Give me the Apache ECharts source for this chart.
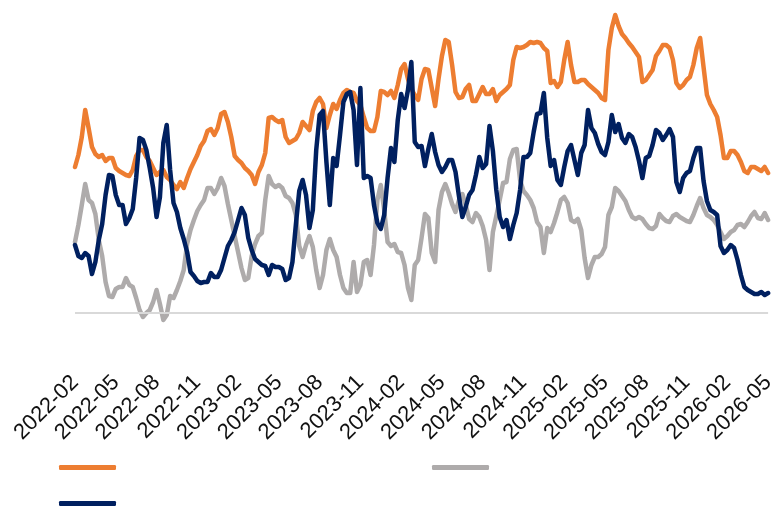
<!DOCTYPE html>
<html>
<head>
<meta charset="utf-8">
<script src="https://cdn.jsdelivr.net/npm/echarts@6/dist/echarts.min.js"></script>
<style>
html,body{margin:0;padding:0;background:#fff;}
#chart{width:778px;height:507px;}
</style>
</head>
<body>
<div id="chart"></div>
<script>
// Tick labels shown on the x axis (every 3 months)
const tickLabels = ['2022-02','2022-05','2022-08','2022-11','2023-02','2023-05','2023-08','2023-11','2024-02','2024-05','2024-08','2024-11','2025-02','2025-05','2025-08','2025-11','2026-02','2026-05'];

// Series names (the legend shows no text)
const seriesNames = ['Series 1', 'Series 2', 'Series 3'];

// Orange series (quarter-month observations, 2022-02 .. 2026-05)
const orangeValues = [
14.6,15.8,17.6,20.3,18.5,16.6,15.9,15.6,15.8,15.2,
15.5,15.5,14.5,14.2,14.0,13.8,13.7,14.3,15.7,16.3,
16.3,15.6,15.2,14.5,13.8,14.1,14.3,13.6,13.3,12.8,
12.4,13.1,12.5,13.5,14.4,15.1,15.8,16.7,17.2,18.2,
18.4,17.8,18.5,19.9,20.1,19.1,17.6,15.7,15.3,15.0,
14.5,14.2,13.8,12.9,14.1,14.8,16.0,19.5,19.6,19.3,
19.1,19.3,17.6,17.0,17.2,17.4,18.0,19.1,18.7,18.3,
20.2,21.1,21.5,20.9,18.5,19.8,20.9,20.4,21.3,22.0,
22.3,22.1,22.0,21.2,20.8,19.6,18.5,18.2,18.2,19.6,
22.2,22.1,21.8,22.2,21.5,22.8,24.4,24.9,23.4,22.4,
21.8,21.3,23.4,24.4,24.3,22.5,20.7,23.4,25.7,27.3,
27.1,24.8,22.1,21.5,21.6,22.4,22.8,21.2,21.2,21.9,
22.6,21.9,21.9,22.4,21.2,21.8,22.1,22.4,22.8,25.3,
26.6,26.5,26.6,26.8,27.1,27.0,27.1,27.0,26.5,26.2,
23.0,23.2,22.6,23.1,25.3,27.1,24.8,23.1,23.1,23.3,
23.3,22.9,22.6,22.3,22.0,21.5,21.3,26.3,28.5,29.8,
28.7,27.9,27.5,27.0,26.6,26.1,25.6,23.1,23.3,23.8,
24.3,25.7,26.2,26.8,26.8,26.5,25.3,23.0,22.5,22.8,
23.3,23.6,24.8,26.5,27.5,24.6,21.8,20.9,20.3,19.6,
17.8,15.5,15.5,16.2,16.2,15.8,15.1,14.2,14.0,14.6,
14.6,14.4,14.2,14.6,14.0
];

// Grey series
const greyValues = [
7.1,8.8,10.8,12.9,11.3,11.0,9.9,7.3,5.7,3.1,
1.7,1.6,2.4,2.6,2.6,3.5,2.8,2.6,1.5,0.3,
-0.4,0.0,0.3,1.1,2.3,0.9,-0.7,-0.2,1.7,1.5,
2.3,3.2,4.3,6.9,8.3,9.3,10.2,10.8,11.3,12.5,
12.5,11.9,12.5,13.5,12.7,10.9,9.3,7.7,6.1,4.5,
3.3,3.5,5.7,6.9,7.7,8.0,11.3,13.7,12.9,12.6,
12.8,12.5,11.7,11.5,11.0,9.8,6.7,5.6,6.8,7.7,
6.6,4.3,2.5,3.8,6.3,7.4,6.3,5.6,3.8,2.5,
2.0,2.0,5.1,2.1,2.8,5.1,5.3,3.8,6.8,11.3,
12.8,10.3,7.1,6.7,6.9,6.1,6.0,4.8,2.5,1.3,
4.8,5.3,7.5,9.9,9.5,6.0,5.1,10.3,12.1,12.9,
12.0,10.9,10.1,11.3,11.9,10.8,9.4,9.1,10.0,9.6,
8.7,7.3,4.3,8.1,9.7,11.3,13.0,13.1,15.4,16.3,
16.4,13.3,12.2,11.8,11.3,10.5,9.1,8.6,6.0,8.5,
8.1,9.0,10.1,11.3,11.6,11.0,9.3,9.1,9.4,8.3,
5.5,3.5,4.8,5.6,5.6,5.9,6.6,9.8,10.6,12.5,
12.2,11.7,11.2,10.3,9.6,9.4,9.6,9.4,8.9,8.5,
8.4,8.7,9.9,9.5,9.2,9.1,9.7,9.9,9.6,9.4,
9.2,9.1,9.8,10.7,11.5,10.5,9.8,9.6,9.3,8.8,
8.1,7.4,7.7,8.1,8.3,8.8,8.9,8.6,9.1,9.7,
10.1,9.5,9.4,10.0,9.3
];

// Navy series
const navyValues = [
6.8,5.7,5.5,6.0,5.7,3.9,5.1,7.3,8.9,11.8,
13.8,13.7,11.8,10.8,10.8,8.9,9.5,10.4,13.5,17.5,
17.3,16.3,14.5,12.5,9.6,11.6,17.0,18.8,14.3,11.0,
10.1,8.5,7.4,6.1,4.1,3.7,3.2,3.0,3.1,3.1,
4.0,3.6,3.6,4.3,5.5,6.7,7.3,8.1,9.3,10.5,
9.8,7.5,6.3,5.4,5.1,4.8,4.7,3.8,4.8,4.6,
4.6,4.4,3.3,3.5,5.1,8.8,12.2,13.3,11.8,8.5,
10.3,16.3,19.8,20.2,15.1,10.8,15.5,14.7,17.8,21.1,
21.9,22.1,20.3,14.8,22.5,13.5,13.7,13.5,10.8,9.0,
8.4,9.8,13.5,16.5,15.1,19.3,21.9,20.5,22.3,25.1,
17.1,16.6,16.7,14.7,16.4,17.9,16.1,14.8,14.1,14.6,
15.3,15.3,14.1,11.7,9.6,10.6,11.8,12.3,13.8,15.6,
14.5,14.9,18.7,16.2,12.3,9.6,8.6,9.3,7.4,8.8,
10.0,12.3,15.6,15.6,16.0,18.1,19.9,20.0,22.0,17.5,
14.7,15.3,13.3,12.8,14.6,16.2,16.8,15.3,13.8,16.0,
16.8,20.3,18.5,18.0,16.9,16.1,15.8,17.1,19.8,18.1,
18.9,17.5,17.0,17.9,17.6,16.6,15.2,13.5,15.5,15.7,
16.8,18.3,18.0,17.3,17.8,18.4,17.6,13.1,12.1,13.5,
14.0,14.2,15.5,16.5,16.5,13.2,11.2,10.3,10.1,9.8,
6.7,6.0,6.3,6.8,6.5,5.3,3.8,2.6,2.3,2.1,
1.9,1.9,2.1,1.8,2.0
];

// Categories: quarter-month steps from 2022-02
const categories = [];
for (let i = 0; i < orangeValues.length; i++) {
  const total = 1 + Math.floor(i / 4);
  const y = 2022 + Math.floor(total / 12);
  const m = (total % 12) + 1;
  categories.push(y + '-' + String(m).padStart(2, '0') + '-W' + (i % 4 + 1));
}

const colors = ['#ED7D31', '#AEABAB', '#002060'];

const chart = echarts.init(document.getElementById('chart'), null, {renderer: 'canvas'});

function legendFor(idx, left, top) {
  return {
    show: true,
    data: [seriesNames[idx]],
    left: left, top: top,
    padding: 0,
    itemWidth: 57, itemHeight: 5,
    icon: 'roundRect',
    formatter: function () { return ''; },
    textStyle: {fontSize: 1},
    selectedMode: false
  };
}

function lineSeries(idx, values, extra) {
  const s = {
    name: seriesNames[idx],
    type: 'line',
    data: values,
    showSymbol: false,
    symbol: 'none',
    smooth: false,
    z: 3 + (idx === 2 ? 2 : idx === 0 ? 1 : 0),
    lineStyle: {color: colors[idx], width: 4.5, cap: 'round', join: 'round'},
    itemStyle: {color: colors[idx]},
    emphasis: {disabled: true},
    animation: false
  };
  return Object.assign(s, extra || {});
}

chart.setOption({
  animation: false,
  backgroundColor: '#ffffff',
  legend: [legendFor(0, 59, 465), legendFor(1, 432, 465), legendFor(2, 59, 501)],
  grid: {left: 75, right: 6, top: 13, bottom: 134, containLabel: false},
  xAxis: {
    type: 'category',
    data: categories,
    boundaryGap: false,
    axisLine: {show: false},
    axisTick: {show: false},
    splitLine: {show: false},
    axisLabel: {
      interval: 11,
      rotate: 45,
      margin: 6,
      fontSize: 22,
      fontFamily: 'Liberation Sans',
      color: '#111111',
      formatter: function (v, i) { return tickLabels[Math.round(i / 12)]; }
    }
  },
  yAxis: {
    type: 'value',
    min: -6, max: 30,
    show: false,
    splitLine: {show: false}
  },
  series: [
    lineSeries(1, greyValues, {
      markLine: {
        silent: true,
        symbol: 'none',
        label: {show: false},
        lineStyle: {color: '#d9d9d9', width: 2, type: 'solid'},
        data: [{yAxis: 0}],
        animation: false
      }
    }),
    lineSeries(0, orangeValues),
    lineSeries(2, navyValues)
  ]
});
</script>
</body>
</html>
